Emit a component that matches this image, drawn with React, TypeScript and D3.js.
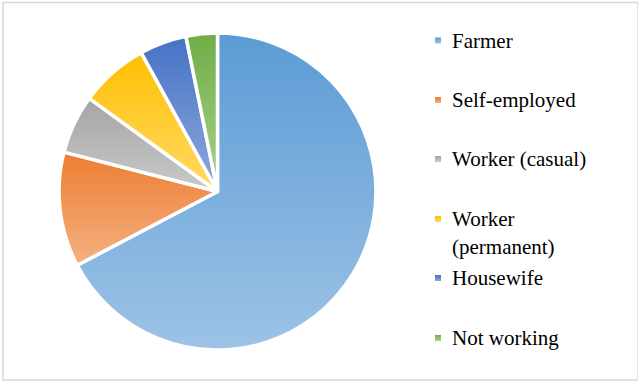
import React from "react";
import * as d3 from "d3";

const categories = ["Farmer", "Self-employed", "Worker (casual)", "Worker (permanent)", "Housewife", "Not working"];
const values = [67.3, 11.7, 6.0, 7.0, 4.8, 3.2];
const legendLines = [["Farmer"], ["Self-employed"], ["Worker (casual)"], ["Worker", "(permanent)"], ["Housewife"], ["Not working"]];
const topColors = ["#5B9BD5", "#ED7D31", "#A5A5A5", "#FFC000", "#4472C4", "#70AD47"];
const bottomColors = ["#9DC3E6", "#F4B183", "#C9C9C9", "#FFD966", "#8FAADC", "#A9D18E"];

const W = 638, H = 381;
const cx = 217.5, cy = 191.5, R = 158.5;

export default function App() {
  const pie = d3.pie<number>().sort(null).value((d) => d)(values);
  const arc = d3.arc<d3.PieArcDatum<number>>().innerRadius(0).outerRadius(R);
  const legendY = [40.5, 100, 159, 219, 278, 338];
  return (
    <svg width={W} height={H} style={{ position: "absolute", left: 0, top: 0 }}>
      <defs>
        {categories.map((c, i) => (
          <linearGradient key={c} id={`g${i}`} x1="0" y1="0" x2="0" y2="1">
            <stop offset="0" stopColor={topColors[i]} />
            <stop offset="1" stopColor={bottomColors[i]} />
          </linearGradient>
        ))}
      </defs>
      <rect x={0} y={0} width={W} height={H} fill="#fff" />
      <rect x={3} y={2.5} width={W - 3} height={H - 3.5} fill="none" stroke="#d9d9d9" strokeWidth={1.5} />
      <g transform={`translate(${cx},${cy})`}>
        {pie.map((p, i) => (
          <path key={i} d={arc(p) || ""} fill={`url(#g${i})`} stroke="#fff" strokeWidth={3.5} strokeLinejoin="round" />
        ))}
      </g>
      {legendLines.map((lines, i) => (
        <g key={i}>
          <rect x={435} y={legendY[i] - 3} width={6} height={6} fill={`url(#g${i})`} />
          {lines.map((t, j) => (
            <text key={j} x={452} y={legendY[i] + 7 + j * 28} style={{ fontFamily: "'Times New Roman', Times, 'Liberation Serif', 'DejaVu Serif', serif", fontSize: 21 }} fill="#000">{t}</text>
          ))}
        </g>
      ))}
    </svg>
  );
}
